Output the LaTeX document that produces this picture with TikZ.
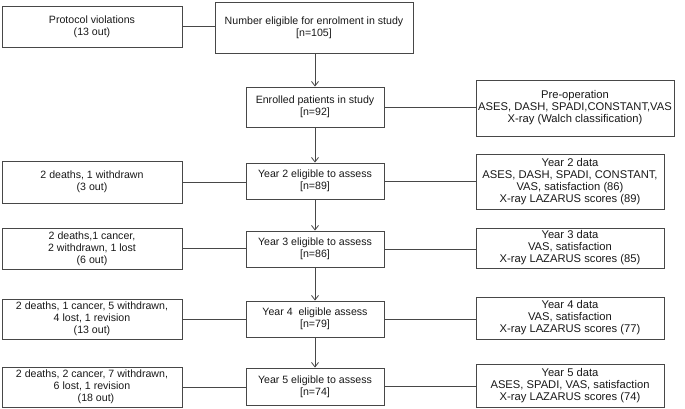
\documentclass[tikz,border=0pt]{standalone}
\usepackage{fontspec}
\setmainfont{Liberation Sans}
\usetikzlibrary{arrows.meta}
\begin{document}
\begin{tikzpicture}[x=1pt,y=-1pt,
  box/.style={draw=black!72,line width=0.9pt,fill=white,inner sep=0pt,align=center,
    font=\fontsize{10.6}{11.8}\selectfont,text=black!90},
  rbox/.style={box,font=\fontsize{11.2}{11.9}\selectfont},
  conn/.style={draw=black!72,line width=0.9pt},
  arr/.style={conn,-{Straight Barb[length=4.5pt,width=7pt,line width=0.8pt]}}]
\useasboundingbox (0,0) rectangle (685,409);
% left column
\node[box,minimum width=180,minimum height=41] (pv) at (92,26.5) {Protocol violations\\(13 out)};
\node[box,minimum width=180,minimum height=42] (l2) at (92,182) {2 deaths, 1 withdrawn\\(3 out)};
\node[box,minimum width=180,minimum height=41] (l3) at (92,248.5) {2 deaths,1 cancer,\\2 withdrawn, 1 lost\\(6 out)};
\node[box,minimum width=180,minimum height=40] (l4) at (92,319) {2 deaths, 1 cancer, 5 withdrawn,\\4 lost, 1 revision\\(13 out)};
\node[box,minimum width=180,minimum height=40] (l5) at (92,387) {2 deaths, 2 cancer, 7 withdrawn,\\6 lost, 1 revision\\\hspace*{8pt}(18 out)};
% centre column
\node[box,minimum width=198,minimum height=51] (ne) at (314,27.5) {Number eligible for enrolment in study\\{}[n=105]};
\node[box,minimum width=138,minimum height=40] (en) at (315,107) {Enrolled patients in study\\{}[n=92]};
\node[box,minimum width=138,minimum height=36] (y2) at (315,181) {Year 2 eligible to assess\\{}[n=89]};
\node[box,minimum width=138,minimum height=36] (y3) at (315,249) {Year 3 eligible to assess\\{}[n=86]};
\node[box,minimum width=138,minimum height=36] (y4) at (315,319) {Year 4\ \ eligible assess\\{}[n=79]};
\node[box,minimum width=138,minimum height=37] (y5) at (315,386.5) {Year 5 eligible to assess\\{}[n=74]};
% right column
\node[rbox,minimum width=198,minimum height=56] (r1) at (575,108) {Pre-operation\\ASES, DASH, SPADI,CONSTANT,VAS\\X-ray (Walch classification)};
\node[rbox,minimum width=188,minimum height=55] (r2) at (570,181.5) {Year 2 data\\ASES, DASH, SPADI, CONSTANT,\\VAS, satisfaction (86)\\X-ray LAZARUS scores (89)};
\node[rbox,minimum width=188,minimum height=40] (r3) at (570,248) {Year 3 data\\VAS, satisfaction\\X-ray LAZARUS scores (85)};
\node[rbox,minimum width=188,minimum height=42] (r4) at (570,318) {Year 4 data\\VAS, satisfaction\\X-ray LAZARUS scores (77)};
\node[rbox,minimum width=188,minimum height=43] (r5) at (570,385.5) {Year 5 data\\ASES, SPADI, VAS, satisfaction\\X-ray LAZARUS scores (74)};
% horizontal connectors
\draw[conn] (pv.east) -- (pv.east -| ne.west);
\draw[conn] (en.east) -- (en.east -| r1.west);
\draw[conn] (l2.east) -- (l2.east -| y2.west);
\draw[conn] (y2.east) -- (y2.east -| r2.west);
\draw[conn] (l3.east) -- (l3.east -| y3.west);
\draw[conn] (y3.east) -- (y3.east -| r3.west);
\draw[conn] (l4.east) -- (l4.east -| y4.west);
\draw[conn] (y4.east) -- (y4.east -| r4.west);
\draw[conn] (l5.east) -- (l5.east -| y5.west);
\draw[conn] (y5.east) -- (y5.east -| r5.west);
% vertical arrows
\draw[arr] (en.north |- ne.south) -- (en.north);
\draw[arr] (en.south) -- (y2.north);
\draw[arr] (y2.south) -- (y3.north);
\draw[arr] (y3.south) -- (y4.north);
\draw[arr] (y4.south) -- (y5.north);
\end{tikzpicture}
\end{document}
